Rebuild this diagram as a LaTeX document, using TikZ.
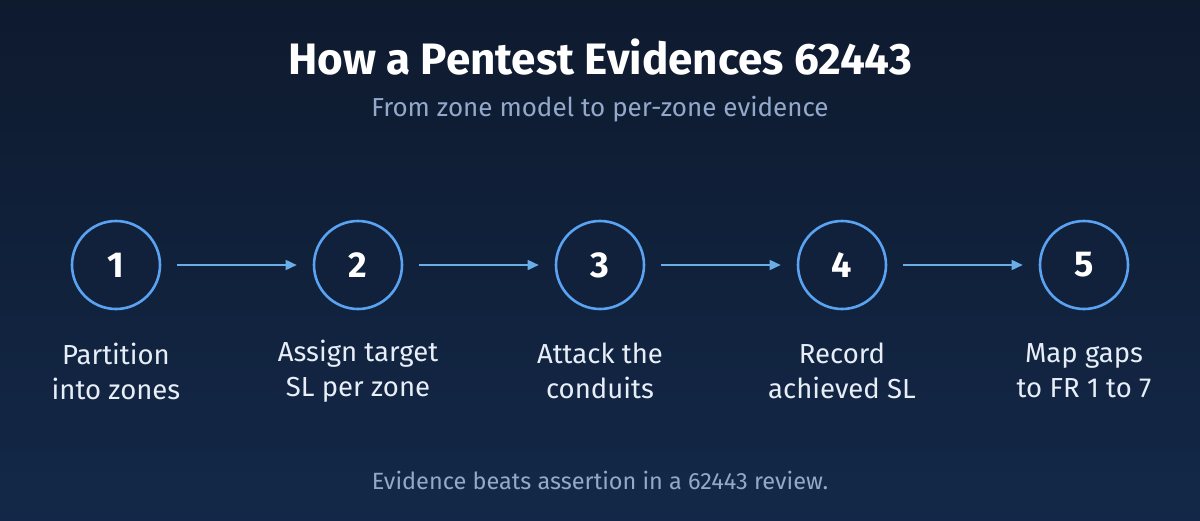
\documentclass[tikz,border=0pt]{standalone}
\usepackage{fontspec}
\setmainfont{Fira Sans}
\usetikzlibrary{arrows.meta}
\definecolor{bgtop}{HTML}{0E1A2E}
\definecolor{bgbot}{HTML}{132848}
\definecolor{ring}{HTML}{5AA2F2}
\definecolor{arrowc}{HTML}{6AAEE8}
\definecolor{subc}{HTML}{93A9CB}
\definecolor{labc}{HTML}{E8EEF8}
\definecolor{fillc}{HTML}{12213B}
\begin{document}
\begin{tikzpicture}[x=1pt,y=-1pt,
  stepcirc/.style={circle,draw=ring,line width=2.6pt,fill=fillc,minimum size=88pt,inner sep=0pt,
    font=\fontsize{36}{40}\selectfont\bfseries,text=white},
  steplabel/.style={align=center,text=labc,font=\fontsize{27.5}{35}\selectfont},
  flow/.style={draw=arrowc,line width=1.6pt,-{Triangle[length=11pt,width=10pt]}}]
\shade[top color=bgtop,bottom color=bgbot] (0,0) rectangle (1200,520);
\useasboundingbox (0,0) rectangle (1200,520);
\node[text=white,font=\fontsize{44}{48}\selectfont\bfseries] (title) at (600,57) {How a Pentest Evidences 62443};
\node[text=subc,font=\fontsize{26}{30}\selectfont] (sub) at (600,109) {From zone model to per-zone evidence};
\foreach \i/\x in {1/116,2/358,3/600,4/842,5/1084}{
  \node[stepcirc] (c\i) at (\x,265) {\i};
}
\node[steplabel] (l1) at (116,371) {Partition\\into zones};
\node[steplabel] (l2) at (358,371) {Assign target\\SL per zone};
\node[steplabel] (l3) at (600,371) {Attack the\\conduits};
\node[steplabel] (l4) at (842,371) {Record\\achieved SL};
\node[steplabel] (l5) at (1084,371) {Map gaps\\to FR 1 to 7};
\foreach \a/\b in {1/2,2/3,3/4,4/5}{
  \draw[flow] ([xshift=16pt]c\a.east) -- ([xshift=-16pt]c\b.west);
}
\node[text=subc,font=\fontsize{23.5}{26}\selectfont] (foot) at (600,480) {Evidence beats assertion in a 62443 review.};
\end{tikzpicture}
\end{document}
